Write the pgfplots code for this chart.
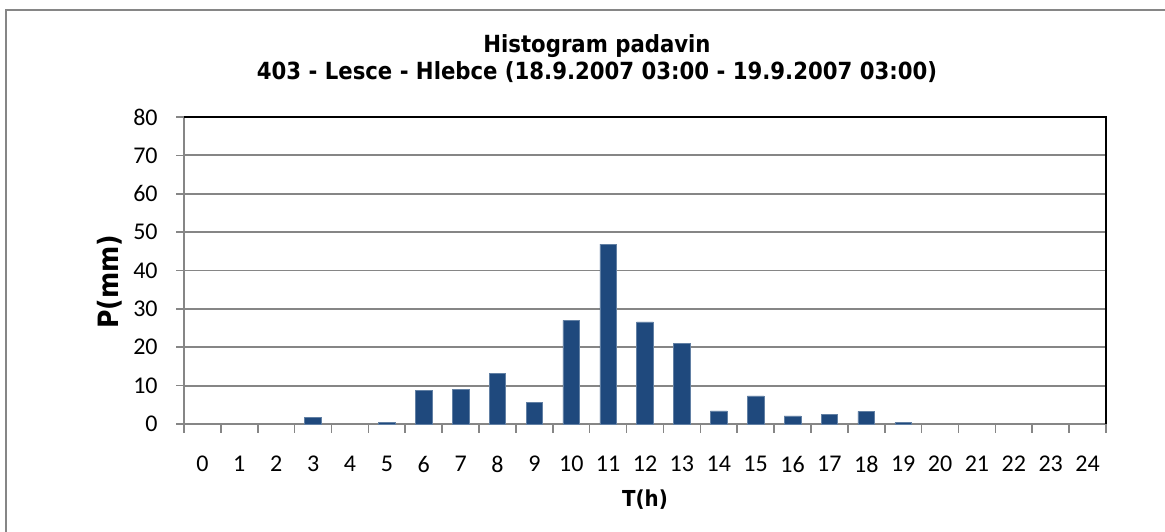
\documentclass[border=0pt]{standalone}
\usepackage{fontspec}
\setmainfont{Carlito}
\newfontfamily\tfont{DejaVu Sans Condensed}
\usepackage{pgfplots}
\pgfplotsset{compat=1.18}
\definecolor{barblue}{HTML}{1F497D}
\definecolor{axgray}{HTML}{868686}
\begin{document}
\begin{tikzpicture}
\useasboundingbox (-92pt,-53.5pt) rectangle (490.5pt,212pt);
\draw[axgray, line width=1pt] (-89pt,-60pt) -- (-89pt,207pt) -- (500pt,207pt);
\begin{axis}[
  scale only axis, width=461pt, height=153.5pt,
  xmin=-0.5, xmax=24.5, ymin=0, ymax=80,
  xtick={0,...,24},
  minor xtick={-0.5,0.5,...,24.5},
  ytick={0,10,...,80},
  xtick pos=bottom, ytick pos=left,
  tick align=outside,
  major tick length=4pt, minor tick length=4.3pt,
  major x tick style={draw=none},
  tick style={axgray, line width=0.8pt},
  axis line style={axgray, line width=1pt},
  ymajorgrids, grid style={axgray, line width=0.9pt},
  /pgf/number format/assume math mode=true,
  tick label style={font=\fontsize{12}{14}\selectfont},
  yticklabel style={inner sep=0pt, xshift=-9pt},
  xticklabel style={inner sep=0pt, yshift=-12pt},
  ybar, bar width=0.45,
  clip=false,
]
\addplot[fill=barblue, draw=barblue!70!white, line width=0.3pt] coordinates {
(3,1.8) (5,0.5) (6,8.7) (7,9.1) (8,13.2) (9,5.7)
(10,27.0) (11,46.9) (12,26.6) (13,21.1) (14,3.4) (15,7.3) (16,2.1) (17,2.5)
(18,3.3) (19,0.35)
};
\draw[black, line width=0.65pt] (rel axis cs:0,1) -- (rel axis cs:1,1) -- (rel axis cs:1,0);
\node[font=\tfont\bfseries\fontsize{11.8}{13.5}\selectfont, align=center, anchor=center, yshift=29pt, xshift=-24pt] at (rel axis cs:0.5,1) {Histogram padavin\\403 - Lesce - Hlebce (18.9.2007 03:00 - 19.9.2007 03:00)};
\node[font=\tfont\bfseries\fontsize{14}{16}\selectfont, anchor=center, xshift=-37pt, rotate=90] at (rel axis cs:0,0.464) {P(mm)};
\node[font=\tfont\bfseries\fontsize{11}{13}\selectfont, anchor=center, yshift=-38pt] at (rel axis cs:0.5,0) {T(h)};
\end{axis}
\end{tikzpicture}
\end{document}
